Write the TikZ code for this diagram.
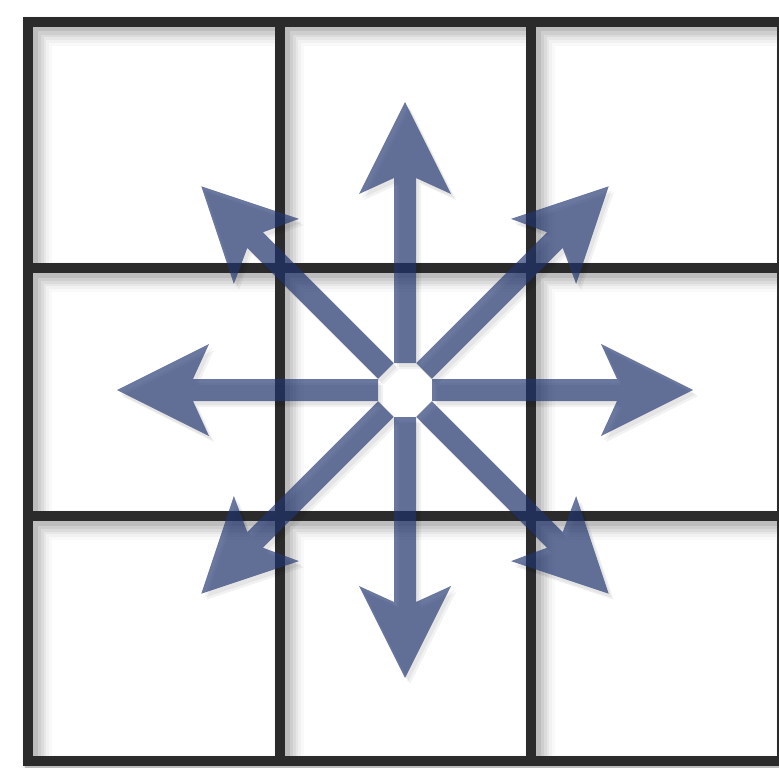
\documentclass[tikz,border=0pt]{standalone}
\usetikzlibrary{positioning}
\definecolor{gLine}{RGB}{43,43,43}
\definecolor{aBlue}{RGB}{33,54,113}

\begin{document}
\begin{tikzpicture}[x=1pt,y=-1pt,
			gridline/.style={draw=gLine, line width=10pt},
			gridshade/.style={draw=black, line width=#1},
			arrowbody/.style={fill=aBlue, fill opacity=0.67},
			arrowshade/.style={fill=black, fill opacity=0.05},
			pics/tiles/.style={code={
				\draw[#1] (28,22) rectangle (782,761)
					(280,22) -- (280,761) (531,22) -- (531,761)
					(28,268) -- (782,268) (28,516) -- (782,516);
			}},
			pics/spoke/.style={code={
				\fill[#1] (27,-11) -- (212,-11) -- (196,-46) -- (288,0)
					-- (196,46) -- (212,11) -- (27,11) -- cycle;
			}}
			]
			\fill[white] (0,0) rectangle (779,768);
			\useasboundingbox (0,0) rectangle (779,768);
			\coordinate (origin) at (0,0);
			\coordinate (hub) at (405,390);
			% shadow of the grid
			\pic at ([shift={(9,9)}]origin) {tiles={gridshade=30pt, opacity=0.025}};
			\pic at ([shift={(8,8)}]origin) {tiles={gridshade=26pt, opacity=0.03}};
			\pic at ([shift={(7,7)}]origin) {tiles={gridshade=22pt, opacity=0.04}};
			\pic at ([shift={(6,6)}]origin) {tiles={gridshade=19pt, opacity=0.05}};
			\pic at ([shift={(5,5)}]origin) {tiles={gridshade=16pt, opacity=0.06}};
			\pic at ([shift={(3,3)}]origin) {tiles={gridshade=13pt, opacity=0.08}};
			\pic at (origin) {tiles=gridline};
			% shadow of the arrows
			\pic[rotate=0] at ([shift={(3,4)}]hub) {spoke=arrowshade};
			\pic[rotate=45] at ([shift={(3,4)}]hub) {spoke=arrowshade};
			\pic[rotate=90] at ([shift={(3,4)}]hub) {spoke=arrowshade};
			\pic[rotate=135] at ([shift={(3,4)}]hub) {spoke=arrowshade};
			\pic[rotate=180] at ([shift={(3,4)}]hub) {spoke=arrowshade};
			\pic[rotate=225] at ([shift={(3,4)}]hub) {spoke=arrowshade};
			\pic[rotate=270] at ([shift={(3,4)}]hub) {spoke=arrowshade};
			\pic[rotate=315] at ([shift={(3,4)}]hub) {spoke=arrowshade};
			\pic[rotate=0] at ([shift={(5,6)}]hub) {spoke=arrowshade};
			\pic[rotate=45] at ([shift={(5,6)}]hub) {spoke=arrowshade};
			\pic[rotate=90] at ([shift={(5,6)}]hub) {spoke=arrowshade};
			\pic[rotate=135] at ([shift={(5,6)}]hub) {spoke=arrowshade};
			\pic[rotate=180] at ([shift={(5,6)}]hub) {spoke=arrowshade};
			\pic[rotate=225] at ([shift={(5,6)}]hub) {spoke=arrowshade};
			\pic[rotate=270] at ([shift={(5,6)}]hub) {spoke=arrowshade};
			\pic[rotate=315] at ([shift={(5,6)}]hub) {spoke=arrowshade};
			% arrows
			\pic[rotate=0] at (hub) {spoke=arrowbody};
			\pic[rotate=45] at (hub) {spoke=arrowbody};
			\pic[rotate=90] at (hub) {spoke=arrowbody};
			\pic[rotate=135] at (hub) {spoke=arrowbody};
			\pic[rotate=180] at (hub) {spoke=arrowbody};
			\pic[rotate=225] at (hub) {spoke=arrowbody};
			\pic[rotate=270] at (hub) {spoke=arrowbody};
			\pic[rotate=315] at (hub) {spoke=arrowbody};
		\end{tikzpicture}
\end{document}
